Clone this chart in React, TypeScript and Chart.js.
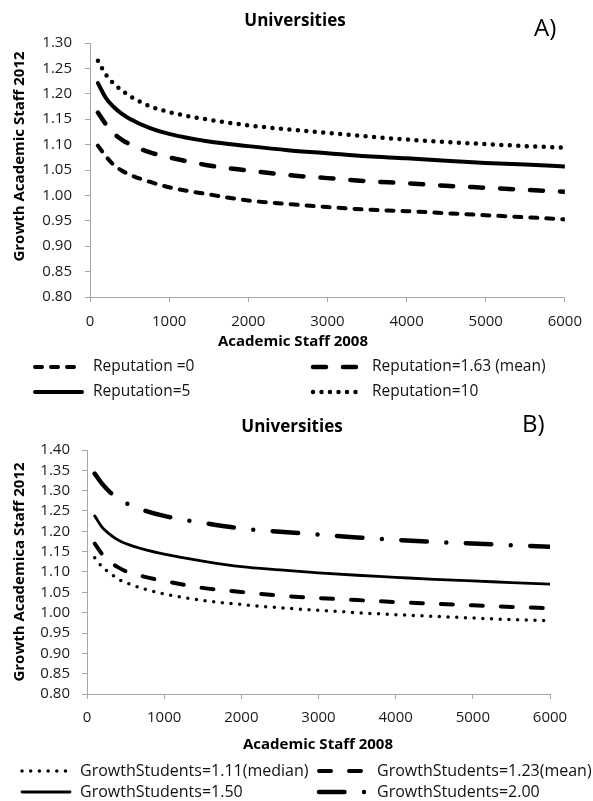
import React, { useEffect, useRef } from 'react';
import { Chart, registerables } from 'chart.js';

Chart.register(...registerables);

// ---------- data ----------
const staff2008 = [100, 200, 300, 400, 500, 750, 1000, 1500, 2000, 2500, 3000, 3500, 4000, 4500, 5000, 5500, 6000];
const xTickValues = [0, 1000, 2000, 3000, 4000, 5000, 6000];

// Panel A (Reputation)
const rep0 = [1.098, 1.077, 1.060, 1.049, 1.041, 1.027, 1.016, 1.002, 0.990, 0.983, 0.977, 0.972, 0.969, 0.965, 0.961, 0.957, 0.953];
const rep163 = [1.163, 1.140, 1.122, 1.110, 1.101, 1.085, 1.075, 1.059, 1.049, 1.040, 1.034, 1.028, 1.024, 1.019, 1.015, 1.011, 1.007];
const rep5 = [1.221, 1.192, 1.174, 1.161, 1.151, 1.133, 1.121, 1.106, 1.097, 1.089, 1.083, 1.077, 1.073, 1.068, 1.064, 1.061, 1.057];
const rep10 = [1.265, 1.238, 1.220, 1.207, 1.196, 1.176, 1.164, 1.149, 1.138, 1.130, 1.123, 1.116, 1.110, 1.105, 1.101, 1.097, 1.094];
const labelsA = ['Reputation =0', 'Reputation=1.63 (mean)', 'Reputation=5', 'Reputation=10'];
const yTickValuesA = [0.8, 0.85, 0.9, 0.95, 1.0, 1.05, 1.1, 1.15, 1.2, 1.25, 1.3];

// Panel B (GrowthStudents)
const gs111 = [1.135, 1.112, 1.097, 1.083, 1.074, 1.058, 1.046, 1.030, 1.020, 1.012, 1.006, 1.000, 0.995, 0.991, 0.987, 0.983, 0.980];
const gs123 = [1.170, 1.143, 1.124, 1.112, 1.102, 1.088, 1.078, 1.061, 1.051, 1.042, 1.036, 1.031, 1.026, 1.022, 1.018, 1.014, 1.011];
const gs150 = [1.238, 1.209, 1.192, 1.179, 1.170, 1.155, 1.144, 1.127, 1.113, 1.105, 1.098, 1.092, 1.087, 1.082, 1.078, 1.074, 1.070];
const gs200 = [1.342, 1.316, 1.296, 1.281, 1.270, 1.251, 1.238, 1.221, 1.207, 1.199, 1.192, 1.185, 1.179, 1.174, 1.170, 1.166, 1.162];
const labelsB = ['GrowthStudents=1.11(median)', 'GrowthStudents=1.23(mean)', 'GrowthStudents=1.50', 'GrowthStudents=2.00'];
const yTickValuesB = [0.8, 0.85, 0.9, 0.95, 1.0, 1.05, 1.1, 1.15, 1.2, 1.25, 1.3, 1.35, 1.4];

const FONT = '"Open Sans", "Noto Sans", sans-serif';
const AXIS_GREY = '#a6a6a6';

type Style = { width: number; dash: number[]; cap: CanvasLineCap };
type LegendPos = { x1: number; x2: number; tx: number; y: number };

type Panel = {
  height: number;
  area: { left: number; top: number; right: number; bottom: number };
  series: number[][];
  labels: string[];
  styles: Style[];
  yTicks: number[];
  yPad: number;
  xPad: number;
  title: string; titleX: number; titleY: number;
  tag: string; tagX: number; tagY: number;
  xTitle: string; xTitleX: number; xTitleY: number;
  yTitle: string; yTitleX: number; yTitleY: number;
  legendFont: number;
  legend: LegendPos[];
};

const panelA: Panel = {
  height: 400,
  area: { left: 90, top: 43, right: 572, bottom: 297 },
  series: [rep0, rep163, rep5, rep10],
  labels: labelsA,
  styles: [
    { width: 4, dash: [7, 9], cap: 'round' },
    { width: 4.5, dash: [13, 17], cap: 'round' },
    { width: 4, dash: [], cap: 'round' },
    { width: 4.5, dash: [0, 8.5], cap: 'round' },
  ],
  yTicks: yTickValuesA,
  yPad: 13,
  xPad: 11,
  title: 'Universities', titleX: 295, titleY: 21.5,
  tag: 'A)', tagX: 534, tagY: 29,
  xTitle: 'Academic Staff 2008', xTitleX: 293, xTitleY: 342,
  yTitle: 'Growth Academic Staff 2012', yTitleX: 20, yTitleY: 156.5,
  legendFont: 15.5,
  legend: [
    { x1: 35, x2: 82, tx: 93, y: 367 },
    { x1: 313, x2: 362, tx: 372, y: 367 },
    { x1: 35, x2: 82, tx: 93, y: 392 },
    { x1: 313, x2: 362, tx: 372, y: 392 },
  ],
};

const panelB: Panel = {
  height: 401,
  area: { left: 87, top: 50, right: 550, bottom: 294 },
  series: [gs111, gs123, gs150, gs200],
  labels: labelsB,
  styles: [
    { width: 3.5, dash: [0, 8.7], cap: 'round' },
    { width: 4, dash: [12, 18], cap: 'round' },
    { width: 2.8, dash: [], cap: 'round' },
    { width: 4.5, dash: [25.5, 19.5, 0, 19.5], cap: 'round' },
  ],
  yTicks: yTickValuesB,
  yPad: 12,
  xPad: 10,
  title: 'Universities', titleX: 292, titleY: 27,
  tag: 'B)', tagX: 522, tagY: 25,
  xTitle: 'Academic Staff 2008', xTitleX: 318, xTitleY: 345,
  yTitle: 'Growth Academica Staff 2012', yTitleX: 20, yTitleY: 172,
  legendFont: 16,
  legend: [
    { x1: 22, x2: 70, tx: 80, y: 371 },
    { x1: 319, x2: 365, tx: 377, y: 371 },
    { x1: 22, x2: 70, tx: 80, y: 392 },
    { x1: 319, x2: 373, tx: 377, y: 392 },
  ],
};

const WIDTH = 593;

function makeDecor(p: Panel) {
  return {
    id: 'decor',
    afterDraw(chart: any) {
      const ctx: CanvasRenderingContext2D = chart.ctx;
      ctx.save();
      ctx.fillStyle = '#000';
      ctx.textBaseline = 'middle';

      ctx.textAlign = 'center';
      ctx.font = `bold 17px ${FONT}`;
      ctx.fillText(p.title, p.titleX, p.titleY);

      ctx.textAlign = 'left';
      ctx.font = `24px ${FONT}`;
      ctx.fillText(p.tag, p.tagX, p.tagY);

      ctx.textAlign = 'center';
      ctx.font = `bold 15px ${FONT}`;
      ctx.fillText(p.xTitle, p.xTitleX, p.xTitleY);

      ctx.save();
      ctx.translate(p.yTitleX, p.yTitleY);
      ctx.rotate(-Math.PI / 2);
      ctx.fillText(p.yTitle, 0, 0);
      ctx.restore();

      p.legend.forEach((pos, i) => {
        const ds = chart.data.datasets[i];
        ctx.save();
        ctx.strokeStyle = '#000';
        ctx.lineWidth = ds.borderWidth;
        ctx.lineCap = ds.borderCapStyle;
        ctx.setLineDash(ds.borderDash || []);
        ctx.beginPath();
        ctx.moveTo(pos.x1, pos.y);
        ctx.lineTo(pos.x2, pos.y);
        ctx.stroke();
        ctx.restore();
        ctx.textAlign = 'left';
        ctx.fillStyle = '#111';
        ctx.font = `${p.legendFont}px ${FONT}`;
        ctx.fillText(ds.label, pos.tx, pos.y);
      });
      ctx.restore();
    },
  };
}

function PanelChart({ p }: { p: Panel }) {
  const ref = useRef<HTMLCanvasElement | null>(null);
  useEffect(() => {
    if (!ref.current) return;
    const datasets = p.series.map((vals, i) => ({
      label: p.labels[i],
      data: staff2008.map((x, j) => ({ x, y: vals[j] })),
      borderColor: '#000',
      backgroundColor: '#000',
      borderWidth: p.styles[i].width,
      borderDash: p.styles[i].dash,
      borderCapStyle: p.styles[i].cap,
      borderJoinStyle: 'round',
      pointRadius: 0,
      fill: false,
      cubicInterpolationMode: 'monotone',
    }));
    const chart = new Chart(ref.current, {
      type: 'line',
      data: { datasets } as any,
      options: {
        responsive: false,
        animation: false,
        devicePixelRatio: 1,
        layout: {
          padding: { left: 0, top: p.area.top, right: WIDTH - p.area.right, bottom: 0 },
        },
        plugins: { legend: { display: false }, title: { display: false }, tooltip: { enabled: false } },
        scales: {
          x: {
            type: 'linear',
            min: 0,
            max: 6000,
            afterBuildTicks: (axis: any) => {
              axis.ticks = xTickValues.map((v) => ({ value: v }));
            },
            afterFit: (axis: any) => {
              axis.height = p.height - p.area.bottom;
            },
            ticks: {
              color: '#1a1a1a',
              font: { family: FONT, size: 15 },
              padding: p.xPad,
              maxRotation: 0,
              autoSkip: false,
              callback: (v: any) => String(v),
            },
            grid: { drawOnChartArea: false, drawTicks: true, tickLength: 5, color: AXIS_GREY },
            border: { display: true, color: AXIS_GREY, width: 1 },
          },
          y: {
            type: 'linear',
            min: p.yTicks[0],
            max: p.yTicks[p.yTicks.length - 1],
            afterBuildTicks: (axis: any) => {
              axis.ticks = p.yTicks.map((v) => ({ value: v }));
            },
            afterFit: (axis: any) => {
              axis.width = p.area.left;
            },
            ticks: {
              color: '#1a1a1a',
              font: { family: FONT, size: 15 },
              padding: p.yPad,
              autoSkip: false,
              callback: (v: any) => Number(v).toFixed(2),
            },
            grid: { drawOnChartArea: false, drawTicks: true, tickLength: 5, color: AXIS_GREY },
            border: { display: true, color: AXIS_GREY, width: 1 },
          },
        },
      } as any,
      plugins: [makeDecor(p)],
    });
    return () => chart.destroy();
  }, [p]);
  return (
    <canvas
      ref={ref}
      width={WIDTH}
      height={p.height}
      style={{ display: 'block', width: WIDTH, height: p.height }}
    />
  );
}

export default function App() {
  return (
    <div style={{ position: 'absolute', left: 0, top: 0, width: WIDTH, height: 801, background: '#fff' }}>
      <PanelChart p={panelA} />
      <PanelChart p={panelB} />
    </div>
  );
}
